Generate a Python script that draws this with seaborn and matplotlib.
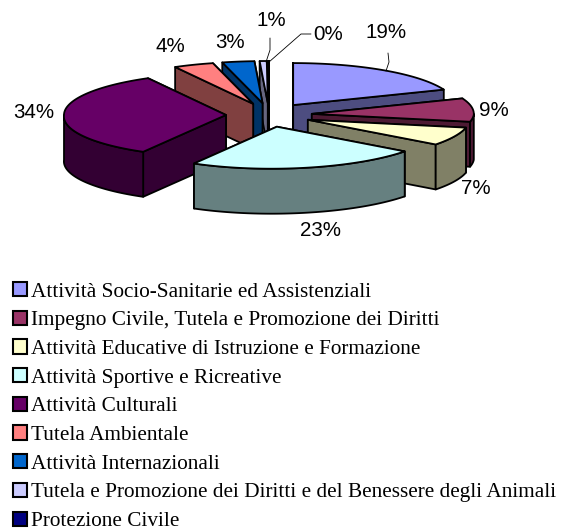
import numpy as np
import seaborn as sns
import matplotlib.pyplot as plt
from matplotlib.patches import Patch, Polygon

categories = ["Attività Socio-Sanitarie ed Assistenziali",
              "Impegno Civile, Tutela e Promozione dei Diritti",
              "Attività Educative di Istruzione e Formazione",
              "Attività Sportive e Ricreative",
              "Attività Culturali",
              "Tutela Ambientale",
              "Attività Internazionali",
              "Tutela e Promozione dei Diritti e del Benessere degli Animali",
              "Protezione Civile"]
values = [19.0, 9.0, 7.0, 23.0, 34.0, 4.0, 3.2, 0.7, 0.1]
colors = ["#9999FF", "#993366", "#FFFFCC", "#CCFFFF", "#660066",
          "#FF8080", "#0066CC", "#CCCCFF", "#000080"]
label_pos = [(386, 33), (494, 111), (476, 189), (321, 230), (34, 113),
             (170, 46), (230, 43), (271, 20), (328, 34)]
draw_order = [8, 7, 6, 5, 4, 0, 1, 2, 3]

# pie geometry in pixels
CX, CY, RX, RY, DEPTH = 269, 115, 162, 42, 45
EXPLODE_X, EXPLODE_Y = 43, 12
SHEAR = 0.13  # rough stand-in for the perspective of the original
LW = 1.3

sns.set_theme(style="white")
plt.rcParams["text.color"] = "black"
palette = sns.color_palette(colors)

fig, ax = plt.subplots(figsize=(5.61, 5.28), dpi=100)
ax.set_position([0, 0, 1, 1])
ax.set_xlim(0, 561)
ax.set_ylim(528, 0)
ax.axis("off")


def skew(x, y):
    # only the part of the pie nearer the viewer leans left
    return x - SHEAR * np.maximum(y - CY, 0)


def rim(ox, oy, a0, a1):
    t = np.linspace(a0, a1, max(int((a1 - a0) * 2), 2))
    x = ox + RX * np.sin(t * np.pi / 180)
    y = oy - RY * np.cos(t * np.pi / 180)
    return np.column_stack([skew(x, y), y])


def face(pts, color, z):
    ax.add_patch(Polygon(pts, closed=True, fc=color, ec="black", lw=LW,
                         joinstyle="round", zorder=z))


edges = np.cumsum([0] + values) * 3.6
z = 1
for i in draw_order:
    a0, a1 = edges[i], edges[i + 1]
    mid = np.radians((a0 + a1) / 2)
    oy = CY - EXPLODE_Y * np.cos(mid)
    ox = CX + EXPLODE_X * np.sin(mid)
    col = palette[i]
    dark = tuple(c * 0.5 for c in col)
    apex = np.array([[skew(ox, oy), oy]])
    drop = np.array([0, DEPTH])
    # cut walls, the one nearer the viewer goes last
    for a in sorted((a0, a1), key=lambda d: -np.cos(np.radians(d))):
        end = rim(ox, oy, a, a + 0.01)[:1]
        face(np.vstack([apex, end, end + drop, apex + drop]), dark, z)
        z += 1
    # outer wall, front half only
    lo, hi = max(a0, 90), min(a1, 270)
    if hi > lo:
        top = rim(ox, oy, lo, hi)
        face(np.vstack([top, (top + drop)[::-1]]), dark, z)
        z += 1
    face(np.vstack([apex, rim(ox, oy, a0, a1)]), col, z)
    z += 1

# leader lines
ax.plot([386, 389, 388], [71, 62, 53], color="black", lw=0.6, zorder=z)
ax.plot([266, 270, 270], [62, 50, 38], color="black", lw=0.6, zorder=z)
ax.plot([269, 301, 311], [62, 34, 34], color="black", lw=0.6, zorder=z)

for (x, y), v in zip(label_pos, values):
    ax.text(x, y, f"{v:.0f}%", ha="center", va="center", color="black",
            fontsize=14.8, family="Liberation Sans", zorder=z + 1)

ax.text(277, -5, "nel 2008", ha="center", va="center", color="black",
        fontsize=15, fontweight="bold", family="Liberation Serif")

handles = [Patch(fc=c, ec="black", lw=1.5) for c in palette]
ax.legend(handles, categories, loc="upper left", bbox_to_anchor=(13 / 561, 1 - 282 / 528),
          frameon=False, borderaxespad=0, borderpad=0, handlelength=0.65,
          handleheight=0.65, handletextpad=0.22, labelspacing=0.43,
          prop={"family": "Liberation Serif", "size": 15.3})

plt.savefig("out.png", dpi=100)
plt.close()
